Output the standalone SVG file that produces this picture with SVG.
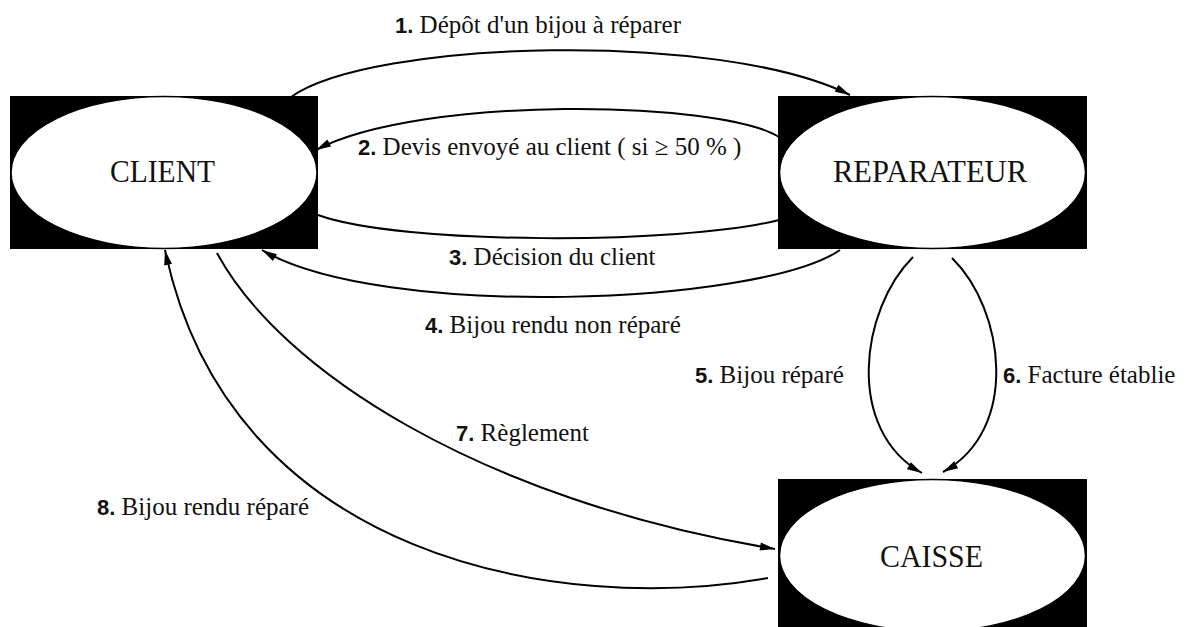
<svg xmlns="http://www.w3.org/2000/svg" width="1191" height="627" viewBox="0 0 1191 627">
  <style>
    .frame { fill: #000; }
    .oval { fill: #fff; stroke: #000; stroke-width: 1.5; }
    .name { font-family: "Liberation Serif", "DejaVu Serif", serif; font-size: 32px; fill: #111; }
    .lbl { font-family: "Liberation Serif", "DejaVu Serif", serif; font-size: 25px; fill: #111; }
    .num { font-family: "Liberation Sans", "DejaVu Sans", sans-serif; font-weight: bold; font-size: 22px; }
    .link { fill: none; stroke: #000; stroke-width: 2; }
  </style>
  <defs>
    <marker id="head" markerUnits="userSpaceOnUse" viewBox="-16 -5 17 10" refX="0" refY="0" markerWidth="17" markerHeight="10" orient="auto">
      <path d="M0,0 L-15,-4 L-15,4 Z" fill="#000"/>
    </marker>
  </defs>

  <rect width="1191" height="627" fill="#fff"/>

  <!-- connectors -->
  <g id="connectors">
    <path class="link" d="M291,97 C370,40 720,30 850,95" marker-end="url(#head)"/>
    <path class="link" d="M779,137 C720,100 420,95 316,150" marker-end="url(#head)"/>
    <path class="link" d="M318,215 C400,245 680,245 779,220"/>
    <path class="link" d="M840,250 C760,305 380,320 262,250" marker-end="url(#head)"/>
    <path class="link" d="M913,257 C860,310 845,430 922,473" marker-end="url(#head)"/>
    <path class="link" d="M952,258 C1005,310 1020,430 943,472" marker-end="url(#head)"/>
    <path class="link" d="M217,253 C280,370 480,500 775,549" marker-end="url(#head)"/>
    <path class="link" d="M768,578 C560,615 230,560 165,250" marker-end="url(#head)"/>
  </g>

  <!-- nodes -->
  <g id="client">
    <rect class="frame" x="10" y="96" width="308" height="153"/>
    <ellipse class="oval" cx="164" cy="172.5" rx="153" ry="76"/>
    <text class="name" x="110" y="182" textLength="105" lengthAdjust="spacingAndGlyphs">CLIENT</text>
  </g>
  <g id="reparateur">
    <rect class="frame" x="778" y="96" width="309" height="153"/>
    <ellipse class="oval" cx="932.5" cy="172.5" rx="153" ry="76"/>
    <text class="name" x="833" y="182" textLength="194" lengthAdjust="spacingAndGlyphs">REPARATEUR</text>
  </g>
  <g id="caisse">
    <rect class="frame" x="778" y="479" width="309" height="153"/>
    <ellipse class="oval" cx="932.5" cy="555.5" rx="153" ry="76"/>
    <text class="name" x="880" y="567" textLength="103" lengthAdjust="spacingAndGlyphs">CAISSE</text>
  </g>

  <!-- flow labels -->
  <g id="labels">
    <text class="lbl" x="395" y="33"><tspan class="num">1.</tspan> <tspan>Dépôt d'un bijou à réparer</tspan></text>
    <text class="lbl" x="358" y="155"><tspan class="num">2.</tspan> <tspan>Devis envoyé au client ( si ≥ 50 % )</tspan></text>
    <text class="lbl" x="449" y="265"><tspan class="num">3.</tspan> <tspan>Décision du client</tspan></text>
    <text class="lbl" x="425" y="333"><tspan class="num">4.</tspan> <tspan>Bijou rendu non réparé</tspan></text>
    <text class="lbl" x="695" y="383"><tspan class="num">5.</tspan> <tspan>Bijou réparé</tspan></text>
    <text class="lbl" x="1003" y="383"><tspan class="num">6.</tspan> <tspan>Facture établie</tspan></text>
    <text class="lbl" x="456" y="441"><tspan class="num">7.</tspan> <tspan>Règlement</tspan></text>
    <text class="lbl" x="97" y="515"><tspan class="num">8.</tspan> <tspan>Bijou rendu réparé</tspan></text>
  </g>
</svg>
